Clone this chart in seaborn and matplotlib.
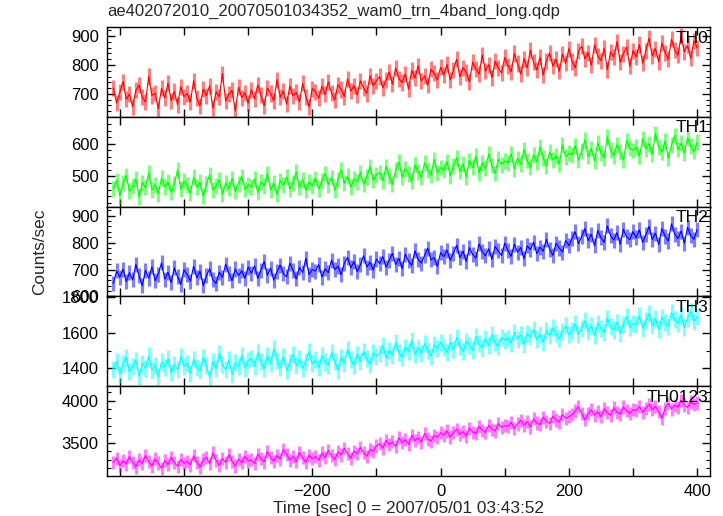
import numpy as np
import pandas as pd
import matplotlib
matplotlib.use("Agg")
import matplotlib.pyplot as plt
import seaborn as sns
from matplotlib.ticker import MultipleLocator, FuncFormatter

sns.set_theme(style="white")
plt.rcParams['font.family'] = ['Liberation Sans', 'DejaVu Sans']

title = "ae402072010_20070501034352_wam0_trn_4band_long.qdp"
xlabel = "Time [sec] 0 = 2007/05/01 03:43:52"
ylabel = "Counts/sec"
bands = ["TH0", "TH1", "TH2", "TH3", "TH0123"]
colors = ["#ff0000", "#00ff00", "#0000ff", "#00ffff", "#ff00ff"]

time_sec = list(range(-510, 401, 5))

th0 = [720, 668, 705, 742, 681, 699, 655, 712, 730, 688, 671, 760, 694, 702, 648, 719, 685, 737, 676, 708, 662, 725, 690,
       701, 672, 745, 684, 659, 716, 693, 728, 650, 707, 689, 770, 675, 698, 712, 640, 723, 686, 704, 667,
       714, 682, 731, 695, 658, 720, 701, 676, 749, 688, 710, 664, 727, 693, 705, 672, 736, 690, 655, 718,
       707, 684, 726, 698, 741, 703, 679, 732, 715, 690, 752, 709, 728, 696, 745, 720, 701, 763, 728, 745,
       760, 721, 748, 775, 733, 790, 752, 739, 768, 716, 781, 755, 797, 744, 762, 730, 785, 771, 748, 792,
       765, 802, 748, 783, 820, 759, 791, 774, 742, 810, 787, 768, 835, 779, 801, 756, 813, 790, 772, 826,
       798, 776, 840, 805, 768, 822, 790, 851, 809, 783, 827, 765, 814, 842, 796, 820, 778, 838, 806, 857,
       812, 790, 848, 866, 821, 843, 799, 870, 832, 815, 858, 784, 846, 827, 881, 810, 839, 862, 795, 850,
       828, 871, 806, 849, 893, 832, 857, 811, 876, 843, 820, 889, 852, 834, 901, 846, 868, 823, 884, 860]

th1 = [462, 488, 441, 479, 503, 455, 470, 492, 438, 481, 466, 510, 459, 474, 447, 495, 468, 483, 452, 477, 520, 461, 486,
       473, 449, 498, 467, 482, 440, 476, 505, 458, 471, 489, 446, 480, 463, 494, 454, 478, 500, 460, 475,
       468, 492, 451, 484, 470, 507, 459, 479, 445, 488, 473, 498, 462, 481, 514, 466, 490, 457, 483, 471,
       494, 462, 486, 509, 475, 497, 458, 490, 520, 479, 501, 467, 493, 484, 512, 476, 499, 530, 488, 505,
       512, 487, 530, 501, 476, 519, 544, 498, 523, 508, 485, 535, 514, 497, 541, 520, 503, 552, 511, 527,
       518, 546, 502, 531, 557, 515, 538, 499, 549, 527, 562, 511, 540, 524, 568, 533, 509, 553, 536, 547,
       541, 569, 523, 555, 537, 582, 549, 528, 566, 544, 590, 557, 532, 574, 551, 563, 538, 596, 560, 571,
       566, 594, 549, 578, 612, 561, 585, 547, 603, 572, 557, 620, 581, 563, 597, 574, 551, 609, 586, 579,
       590, 562, 615, 583, 600, 568, 631, 589, 574, 608, 555, 596, 625, 582, 601, 571, 618, 592, 576, 604]

th2 = [648, 695, 672, 701, 655, 688, 662, 719, 676, 640, 697, 668, 710, 659, 683, 725, 664, 690, 651, 706, 673, 645, 699,
       681, 657, 712, 669, 694, 640, 676, 703, 662, 648, 690, 671, 720, 684, 659, 702, 677, 695, 668, 709,
       686, 713, 667, 698, 730, 679, 705, 660, 692, 716, 684, 673, 724, 697, 665, 708, 689, 742, 681, 700,
       694, 718, 672, 703, 688, 735, 699, 713, 681, 724, 745, 706, 730, 692, 717, 751, 709, 727, 698, 739,
       722, 748, 709, 735, 760, 718, 741, 703, 757, 732, 715, 769, 738, 724, 751, 779, 736, 744, 712, 763,
       748, 772, 735, 761, 790, 744, 768, 730, 781, 756, 742, 795, 766, 751, 777, 738, 786, 769, 752, 798,
       771, 749, 794, 765, 782, 740, 788, 774, 802, 759, 783, 768, 812, 776, 753, 797, 780, 765, 808, 789,
       815, 840, 796, 823, 852, 807, 831, 788, 845, 818, 801, 862, 826, 809, 837, 794, 850, 822, 811, 841,
       818, 847, 801, 829, 860, 812, 835, 793, 852, 824, 806, 870, 831, 815, 843, 798, 857, 826, 812, 849]

th3 = [1395, 1440, 1368, 1425, 1462, 1381, 1410, 1447, 1356, 1429, 1401, 1470, 1389, 1418, 1352, 1436, 1407, 1455, 1376, 1422, 1393, 1466, 1412,
       1428, 1372, 1451, 1405, 1386, 1460, 1417, 1349, 1439, 1398, 1482, 1421, 1392, 1448, 1365, 1431, 1410, 1475, 1402, 1443,
       1456, 1413, 1489, 1437, 1398, 1470, 1428, 1512, 1447, 1405, 1466, 1389, 1432, 1478, 1416, 1453, 1401, 1440, 1495, 1426,
       1448, 1405, 1472, 1436, 1419, 1490, 1441, 1388, 1463, 1429, 1508, 1452, 1417, 1478, 1440, 1496, 1455, 1423, 1487, 1468,
       1482, 1527, 1459, 1501, 1473, 1545, 1490, 1462, 1520, 1497, 1558, 1478, 1515, 1486, 1540, 1503, 1469, 1532, 1511, 1548,
       1518, 1489, 1545, 1507, 1572, 1524, 1496, 1553, 1530, 1502, 1579, 1538, 1515, 1566, 1529, 1590, 1547, 1521, 1575, 1558,
       1570, 1542, 1603, 1565, 1588, 1534, 1596, 1577, 1619, 1561, 1590, 1548, 1612, 1583, 1628, 1595, 1566, 1607, 1640, 1589,
       1612, 1651, 1590, 1627, 1668, 1606, 1639, 1585, 1655, 1624, 1603, 1682, 1637, 1616, 1660, 1598, 1645, 1691, 1630, 1652,
       1648, 1695, 1626, 1667, 1709, 1642, 1680, 1618, 1688, 1659, 1636, 1715, 1674, 1652, 1699, 1630, 1683, 1721, 1665, 1690]

th0123 = [3262, 3318, 3230, 3285, 3247, 3336, 3271, 3212, 3298, 3253, 3350, 3276, 3224, 3309, 3260, 3195, 3288, 3241, 3327, 3266, 3219, 3302, 3255,
          3280, 3236, 3345, 3268, 3210, 3297, 3329, 3251, 3380, 3290, 3233, 3312, 3266, 3358, 3279, 3224, 3306, 3262, 3340, 3284,
          3297, 3253, 3366, 3310, 3272, 3395, 3328, 3281, 3349, 3305, 3420, 3362, 3294, 3339, 3276, 3386, 3321, 3268, 3352, 3310,
          3338, 3292, 3379, 3326, 3410, 3348, 3301, 3392, 3355, 3436, 3368, 3317, 3402, 3371, 3445, 3383, 3340, 3421, 3398, 3462,
          3488, 3436, 3530, 3479, 3512, 3455, 3561, 3503, 3538, 3481, 3590, 3527, 3559, 3508, 3612, 3546, 3520, 3588, 3565, 3620,
          3592, 3641, 3570, 3618, 3662, 3601, 3634, 3580, 3675, 3628, 3609, 3697, 3652, 3624, 3710, 3663, 3641, 3728, 3685, 3704,
          3698, 3742, 3671, 3725, 3768, 3710, 3751, 3689, 3786, 3737, 3716, 3805, 3759, 3730, 3818, 3772, 3748, 3835, 3790, 3812,
          3835, 3880, 3928, 3852, 3774, 3846, 3893, 3831, 3870, 3812, 3905, 3858, 3827, 3919, 3866, 3843, 3927, 3881, 3850, 3896,
          3884, 3932, 3862, 3910, 3958, 3895, 3936, 3871, 3790, 3914, 3968, 3902, 3947, 3925, 4010, 3951, 3922, 3987, 3958, 3975]

# typical 1-sigma error of each band (counts/sec)
errors = [28, 24, 28, 48, 78]

series = [th0, th1, th2, th3, th0123]
ylims = [(620, 932), (408, 682), (600, 934), (1300, 1805), (3105, 4175)]
ymajor = [100, 100, 100, 200, 500]
yminor = [20, 20, 20, 100, 100]

fig = plt.figure(figsize=(7.23, 5.16), dpi=100)
left, right, top, bottom = 107 / 723, 710 / 723, 1 - 27 / 516, 1 - 476 / 516
h = (top - bottom) / 5
axes = []
for i in range(5):
    ax = fig.add_axes([left, top - (i + 1) * h, right - left, h])
    axes.append(ax)

for i, ax in enumerate(axes):
    df = pd.DataFrame({"time": time_sec, "rate": series[i]})
    lo = df["rate"] - errors[i]
    hi = df["rate"] + errors[i]
    ax.vlines(df["time"], lo, hi, color=colors[i], alpha=0.5, lw=2.3, zorder=1)
    sns.lineplot(data=df, x="time", y="rate", ax=ax, color=colors[i], lw=0.8,
                 estimator=None, zorder=2)
    ax.set_xlim(-520, 420)
    ax.set_ylim(*ylims[i])
    ax.set_xlabel("")
    ax.set_ylabel("")
    ax.xaxis.set_major_locator(MultipleLocator(100))
    ax.yaxis.set_major_locator(MultipleLocator(ymajor[i]))
    ax.yaxis.set_minor_locator(MultipleLocator(yminor[i]))
    ax.tick_params(which="both", direction="in", top=True, right=True,
                   bottom=True, left=True, colors="black", labelsize=12, pad=6)
    ax.tick_params(which="major", length=6, width=1)
    ax.tick_params(which="minor", length=3, width=0.8)
    for s in ax.spines.values():
        s.set_color("black")
        s.set_linewidth(1.0)
    ax.text(0.997, 0.96, bands[i], transform=ax.transAxes, ha="right", va="top",
            fontsize=12.5, color="black")
    if i < 4:
        ax.tick_params(labelbottom=False)
    else:
        ax.xaxis.set_major_formatter(FuncFormatter(
            lambda v, p: ("\u2212%d" % abs(v) if v < 0 else "%d" % v) if int(round(v)) % 200 == 0 else ""))

fig.text(left, 1 - 11 / 516, title, ha="left", va="center", fontsize=12)
fig.text((left + right) / 2, 1 - 508 / 516, xlabel, ha="center", va="center", fontsize=12.4)
fig.text(40 / 723, (top + bottom) / 2, ylabel, ha="center", va="center", rotation=90, fontsize=12.4)

fig.savefig("out.png", dpi=100)
